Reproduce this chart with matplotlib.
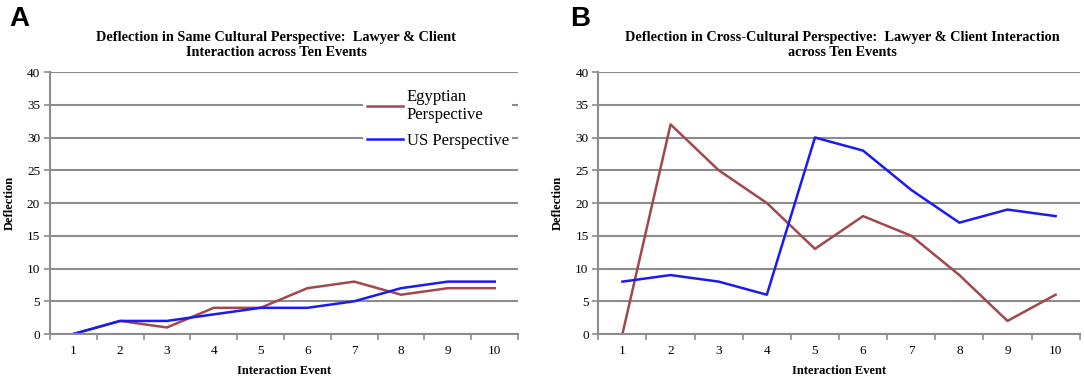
import matplotlib
matplotlib.use("Agg")
import matplotlib.pyplot as plt
import numpy as np

# data
events = [1, 2, 3, 4, 5, 6, 7, 8, 9, 10]
same_egypt = [0, 2, 1, 4, 4, 7, 8, 6, 7, 7]
same_us = [0, 2, 2, 3, 4, 4, 5, 7, 8, 8]
cross_egypt = [0, 32, 25, 20, 13, 18, 15, 9, 2, 6]
cross_us = [8, 9, 8, 6, 30, 28, 22, 17, 19, 18]

title_a = "Deflection in Same Cultural Perspective:  Lawyer & Client\nInteraction across Ten Events"
title_b = "Deflection in Cross-Cultural Perspective:  Lawyer & Client Interaction\nacross Ten Events"

plt.rcParams['font.family'] = ['Liberation Serif', 'DejaVu Serif']

egypt_col = '#A0484B'
us_col = '#1A1AF5'
grid_col = '#8C8C8C'

fig = plt.figure(figsize=(10.84, 3.77), dpi=100)
ax_a = fig.add_axes([0.046, 0.114, 0.432, 0.695])
ax_b = fig.add_axes([0.552, 0.114, 0.444, 0.695])


def style(ax, title, title_x):
    ax.set_xlim(0.5, 10.5)
    ax.set_ylim(0, 40)
    ax.set_yticks(np.arange(0, 41, 5))
    ax.set_xticks(events)
    ax.set_xticks(np.arange(0.5, 11, 1), minor=True)
    ax.tick_params(axis='x', which='major', length=0, labelsize=9.5, pad=8)
    ax.tick_params(axis='x', which='minor', length=4, color=grid_col, width=1.2)
    ax.tick_params(axis='y', length=4, color=grid_col, width=1.2, labelsize=9.5, pad=3)
    ax.yaxis.grid(True, color=grid_col, linewidth=1.5)
    ax.set_axisbelow(True)
    for s in ['top', 'right']:
        ax.spines[s].set_visible(False)
    for s in ['left', 'bottom']:
        ax.spines[s].set_color(grid_col)
        ax.spines[s].set_linewidth(1.5)
    ax.set_ylabel('Deflection', fontsize=9, fontweight='bold', labelpad=8)
    ax.set_xlabel('Interaction Event', fontsize=9, fontweight='bold', labelpad=6)
    fig.text(title_x, 0.88, title, ha='center', va='center', fontsize=10.3,
             fontweight='bold', linespacing=1.25)


ax_a.plot(events, same_egypt, color=egypt_col, lw=1.8, label='Egyptian\nPerspective')
ax_a.plot(events, same_us, color=us_col, lw=1.8, label='US Perspective')
style(ax_a, title_a, 0.255)
leg = ax_a.legend(loc='upper right', bbox_to_anchor=(1.005, 0.98), frameon=True,
                  fontsize=12, handlelength=2.2, handletextpad=0.2, labelspacing=0.6,
                  borderpad=0.2)
leg.get_frame().set_edgecolor('none')
leg.get_frame().set_facecolor('white')
leg.get_frame().set_alpha(1)

ax_b.plot(events, cross_egypt, color=egypt_col, lw=1.8)
ax_b.plot(events, cross_us, color=us_col, lw=1.8)
style(ax_b, title_b, 0.777)

fig.text(0.009, 0.95, 'A', fontsize=20, fontweight='bold', family='Liberation Sans', va='center')
fig.text(0.526, 0.95, 'B', fontsize=20, fontweight='bold', family='Liberation Sans', va='center')

fig.savefig('out.png', dpi=100)
